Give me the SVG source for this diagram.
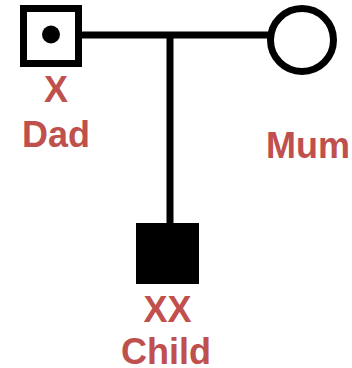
<svg xmlns="http://www.w3.org/2000/svg" width="352" height="368" viewBox="0 0 352 368">
  <style>
    .ln { stroke: #000; stroke-width: 7; fill: none; }
    .lbl { font-family: "Liberation Sans", Arial, sans-serif; font-weight: bold; font-size: 36px; fill: #C0504D; text-anchor: middle; }
  </style>
  <rect width="352" height="368" fill="#fff"/>
  <g id="connectors">
    <line class="ln" x1="82" y1="35" x2="268" y2="35"/>
    <line class="ln" x1="170" y1="35" x2="170" y2="223"/>
  </g>
  <g id="dad">
    <rect class="ln" x="23.5" y="8.5" width="55" height="55" fill="#fff"/>
    <circle cx="51" cy="34.5" r="9" fill="#000"/>
    <text class="lbl" x="56" y="102">X</text>
    <text class="lbl" x="56" y="147">Dad</text>
  </g>
  <g id="mum">
    <circle class="ln" cx="302" cy="40" r="31.5" fill="#fff"/>
    <text class="lbl" x="308" y="158">Mum</text>
  </g>
  <g id="child">
    <rect x="136" y="223" width="63" height="61" fill="#000"/>
    <text class="lbl" x="167.5" y="322">XX</text>
    <text class="lbl" x="166" y="364">Child</text>
  </g>
</svg>
